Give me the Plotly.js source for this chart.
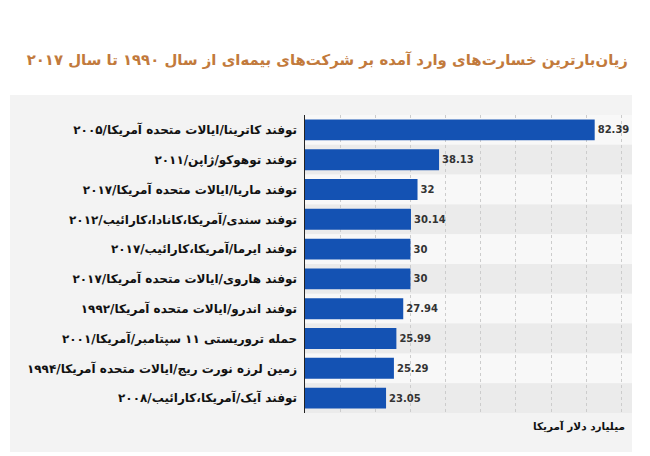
<!DOCTYPE html>
<html>
<head>
<meta charset="utf-8">
<script src="https://cdn.plot.ly/plotly-3.0.1.min.js"></script>
<style>html,body{margin:0;padding:0;background:#fff;}#chart{width:650px;height:456px;}</style>
</head>
<body>
<div id="chart"></div>
<script>
const titleText = "زیان‌بارترین خسارت‌های وارد آمده بر شرکت‌های بیمه‌ای از سال ۱۹۹۰ تا سال ۲۰۱۷";
const unitText = "میلیارد دلار آمریکا";
const categories = [
  "توفند کاترینا/ایالات متحده آمریکا/۲۰۰۵",
  "توفند توهوکو/ژاپن/۲۰۱۱",
  "توفند ماریا/ایالات متحده آمریکا/۲۰۱۷",
  "توفند سندی/آمریکا،کانادا،کارائیب/۲۰۱۲",
  "توفند ایرما/آمریکا،کارائیب/۲۰۱۷",
  "توفند هاروی/ایالات متحده آمریکا/۲۰۱۷",
  "توفند اندرو/ایالات متحده آمریکا/۱۹۹۲",
  "حمله تروریستی ۱۱ سپتامبر/آمریکا/۲۰۰۱",
  "زمین لرزه نورت ریج/ایالات متحده آمریکا/۱۹۹۴",
  "توفند آیک/آمریکا،کارائیب/۲۰۰۸"
];
const values = [82.39, 38.13, 32, 30.14, 30, 30, 27.94, 25.99, 25.29, 23.05];
const valueLabels = ["82.39", "38.13", "32", "30.14", "30", "30", "27.94", "25.99", "25.29", "23.05"];

const shapes = [
  {type:'rect', xref:'paper', yref:'paper', x0:-0.902, x1:1.0, y0:-0.131, y1:1.067,
   fillcolor:'#f3f3f3', line:{width:0}, layer:'below'}
];
categories.forEach((c, i) => {
  shapes.push({type:'rect', xref:'paper', yref:'y', x0:0, x1:1, y0:i-0.5, y1:i+0.5,
    fillcolor: i % 2 === 0 ? '#f8f8f8' : '#ebebeb', line:{width:0}, layer:'below'});
});

const trace = {
  type:'bar', orientation:'h',
  y: categories, x: values,
  text: valueLabels, textposition:'outside', cliponaxis:false,
  textfont:{family:'DejaVu Sans, sans-serif', size:10, color:'#333333', weight:'bold'},
  marker:{color:'#1452b3', line:{width:0}},
  width:0.7, hoverinfo:'none'
};

const layout = {
  width:650, height:456,
  margin:{l:305, r:18, t:115, b:43},
  paper_bgcolor:'#ffffff', plot_bgcolor:'rgba(0,0,0,0)',
  showlegend:false,
  title:{text:titleText, x:0.966, xanchor:'right', xref:'container', y:0.868, yanchor:'middle', yref:'container',
    font:{family:'DejaVu Sans, sans-serif', size:14.9, color:'#c27a3c', weight:'bold'}},
  xaxis:{range:[0,93], dtick:10, tick0:0, showticklabels:false, showgrid:true,
    gridcolor:'#cccccc', griddash:'dot', gridwidth:1, zeroline:false, showline:false, fixedrange:true},
  yaxis:{autorange:'reversed', showgrid:false, zeroline:false, showline:true, linecolor:'#222222', linewidth:1.5,
    ticks:'', ticklabelstandoff:4,
    tickfont:{family:'DejaVu Sans, sans-serif', size:12, color:'#111111', weight:'bold'}},
  shapes: shapes,
  annotations:[
    {text:unitText, xref:'paper', yref:'paper', x:0.985, xanchor:'right', y:-0.045, yanchor:'middle', showarrow:false,
     font:{family:'DejaVu Sans, sans-serif', size:10.5, color:'#111111', weight:'bold'}}
  ]
};

Plotly.newPlot('chart', [trace], layout, {staticPlot:true, displayModeBar:false});
</script>
</body>
</html>
